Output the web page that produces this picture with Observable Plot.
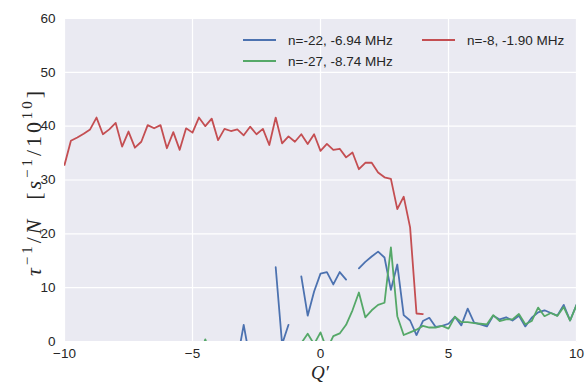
<!DOCTYPE html>
<html>
<head>
<meta charset="utf-8">
<script src="https://cdn.jsdelivr.net/npm/d3@7"></script>
<script src="https://cdn.jsdelivr.net/npm/@observablehq/plot@0.6"></script>
<style>
  body { margin: 0; background: #fff; }
  #chart { width: 587px; height: 385px; }
</style>
</head>
<body>
<div id="chart"></div>
<script>
const qValues = [-10,-9.75,-9.5,-9.25,-9,-8.75,-8.5,-8.25,-8,-7.75,-7.5,-7.25,-7,-6.75,-6.5,-6.25,-6,-5.75,-5.5,-5.25,-5,-4.75,-4.5,-4.25,-4,-3.75,-3.5,-3.25,-3,-2.75,-2.5,-2.25,-2,-1.75,-1.5,-1.25,-1,-0.75,-0.5,-0.25,0,0.25,0.5,0.75,1,1.25,1.5,1.75,2,2.25,2.5,2.75,3,3.25,3.5,3.75,4,4.25,4.5,4.75,5,5.25,5.5,5.75,6,6.25,6.5,6.75,7,7.25,7.5,7.75,8,8.25,8.5,8.75,9,9.25,9.5,9.75,10];

// n=-8, -1.90 MHz (red), defined from Q'=-10 to 4
const redValues = [32.8,37.3,37.9,38.6,39.4,41.6,38.5,39.4,40.6,36.2,39.0,36.0,37.1,40.2,39.6,40.2,35.9,38.9,35.6,39.6,38.8,41.6,40.0,41.4,37.4,39.5,39.1,39.4,38.3,39.9,38.5,39.5,36.5,41.6,36.8,38.1,37.1,38.5,36.7,38.5,35.4,36.7,35.6,35.8,34.2,35.1,32.0,33.2,33.2,31.4,30.5,30.2,24.6,26.9,21.2,5.2,5.1,
  null,null,null,null,null,null,null,null,null,null,null,null,null,null,null,null,null,null,null,null,null,null,null,null];

// n=-22, -6.94 MHz (blue)
const blueValues = [null,null,null,null,null,null,null,null,null,null,null,null,null,null,null,null,null,null,null,null,null,null,null,null,null,null,null,
  -3.5,3.1,-3.5,null,null,null,13.8,-0.5,3.1,null,12.1,4.8,9.3,12.6,12.9,10.6,12.9,11.5,null,13.6,14.8,15.8,16.7,15.6,9.6,14.3,4.9,3.9,1.2,3.8,4.4,2.7,2.9,3.3,4.6,3.0,6.1,3.5,3.2,2.8,4.8,4.1,4.5,3.9,4.8,2.8,4.4,5.4,5.8,5.3,4.8,6.8,3.9,6.8];

// n=-27, -8.74 MHz (green)
const greenValues = [null,null,null,null,null,null,null,null,null,null,null,null,null,null,null,null,null,null,null,null,null,
  -3,0.4,-3,null,null,null,null,null,null,null,null,null,null,null,null,null,-0.3,1.45,-0.5,1.7,-1.5,1.0,1.5,3.1,5.8,9.1,4.5,5.8,6.8,7.2,17.5,4.7,1.2,1.7,2.2,2.9,2.6,2.6,2.9,2.4,4.6,3.6,3.6,3.4,3.3,3.2,4.9,3.8,4.1,4.1,5.1,3.2,3.8,6.3,4.7,5.3,4.75,6.4,3.9,6.75];

const seriesNames = ["n=-22, -6.94 MHz", "n=-27, -8.74 MHz", "n=-8, -1.90 MHz"];
const seriesColors = ["#4C72B0", "#55A868", "#C44E52"];
const xTicks = [-10, -5, 0, 5, 10];
const yTicks = [0, 10, 20, 30, 40, 50, 60];

const toRows = (vals, name) => qValues.map((q, i) => ({q, v: vals[i], name}));
const blueRows = toRows(blueValues, seriesNames[0]);
const greenRows = toRows(greenValues, seriesNames[1]);
const redRows = toRows(redValues, seriesNames[2]);

const lineOpts = (color) => ({x: "q", y: "v", stroke: color, strokeWidth: 1.8, clip: true, defined: d => d.v != null});

const plot = Plot.plot({
  width: 587,
  height: 385,
  marginLeft: 64,
  marginRight: 11,
  marginTop: 18,
  marginBottom: 44,
  style: {fontFamily: "'Liberation Sans', Arial, sans-serif", fontSize: "13px", color: "#262626", background: "#fff"},
  x: {domain: [-10, 10]},
  y: {domain: [0, 60]},
  marks: [
    Plot.frame({fill: "#EAEAF2", stroke: null}),
    Plot.gridX(xTicks, {stroke: "#fff", strokeOpacity: 1, strokeWidth: 1.2}),
    Plot.gridY(yTicks, {stroke: "#fff", strokeOpacity: 1, strokeWidth: 1.2}),
    Plot.axisX(xTicks, {tickSize: 0, tickPadding: 7, label: null, fontSize: 13.5, fill: "#262626"}),
    Plot.axisY(yTicks, {tickSize: 0, tickPadding: 9, label: null, fontSize: 13.5, fill: "#262626"}),
    Plot.line(blueRows, lineOpts(seriesColors[0])),
    Plot.line(greenRows, lineOpts(seriesColors[1])),
    Plot.line(redRows, lineOpts(seriesColors[2]))
  ]
});
document.getElementById("chart").appendChild(plot);

const svg = d3.select(plot);
// Legend
const legendItems = [
  {name: seriesNames[0], color: seriesColors[0], x: 243, y: 40},
  {name: seriesNames[1], color: seriesColors[1], x: 243, y: 61},
  {name: seriesNames[2], color: seriesColors[2], x: 422, y: 40}
];
const lg = svg.append("g");
legendItems.forEach(it => {
  lg.append("line").attr("x1", it.x).attr("x2", it.x + 33).attr("y1", it.y).attr("y2", it.y)
    .attr("stroke", it.color).attr("stroke-width", 1.8);
  lg.append("text").attr("x", it.x + 45).attr("y", it.y).attr("dy", "0.35em")
    .attr("text-anchor", "start")
    .attr("fill", "#262626").style("font-family", "'Liberation Sans', Arial, sans-serif").style("font-size", "13.5px")
    .text(it.name);
});

// Y axis label (math)
const yl = svg.append("text").attr("transform", "translate(41,182) rotate(-90)")
  .attr("text-anchor", "middle").attr("fill", "#262626")
  .style("font-family", "'Liberation Serif', 'DejaVu Serif', serif").style("font-size", "22px");
const parts = [
  {t: "τ", it: true},
  {t: "−1", sup: true},
  {t: "/", },
  {t: "N", it: true},
  {t: "\u00a0\u00a0[", },
  {t: "s", it: true},
  {t: "−1", sup: true},
  {t: "/10", },
  {t: "10", sup: true},
  {t: "]", }
];
let raised = false;
let nChars = 0;
parts.forEach(p => {
  nChars += p.t.length;
  const ts = yl.append("tspan").text(p.t);
  if (p.it) ts.style("font-style", "italic");
  if (p.sup) { ts.style("font-size", "15px"); if (!raised) { ts.attr("dy", -9); raised = true; } }
  else if (raised) { ts.attr("dy", 9); raised = false; }
});
const targetLen = 188;
const curLen = yl.node().getComputedTextLength();
if (curLen < targetLen) yl.style("letter-spacing", ((targetLen - curLen) / nChars) + "px");

// X axis label
svg.append("text").attr("x", 320).attr("y", 379).attr("text-anchor", "middle").attr("fill", "#262626")
  .style("font-family", "'Liberation Serif', 'DejaVu Serif', serif").style("font-size", "19px")
  .append("tspan").style("font-style", "italic").text("Q′");
</script>
</body>
</html>
